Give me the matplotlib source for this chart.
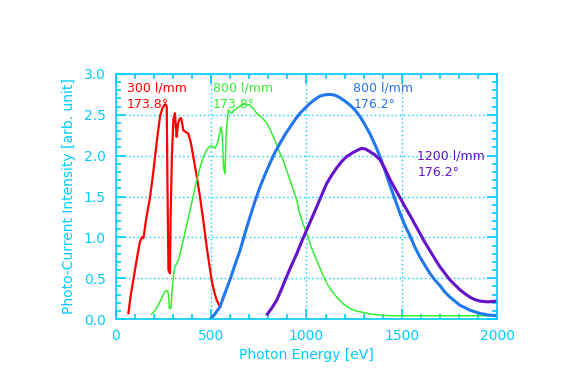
import matplotlib
matplotlib.use("Agg")
import matplotlib.pyplot as plt
from matplotlib.ticker import MultipleLocator

CYAN = "#00CCFF"

# 300 l/mm, 173.8 deg
red_e = [67, 80, 93, 110, 128, 138, 146, 160, 181, 195, 207, 220, 233, 245, 256, 262, 268, 272, 277, 285,
         288, 295, 303, 311, 316, 320, 328, 335, 343, 350, 355, 368, 381, 395, 407, 425, 442, 460, 477, 490,
         503, 517, 530, 547]
red_i = [0.07, 0.30, 0.48, 0.72, 0.95, 1.00, 0.99, 1.22, 1.50, 1.75, 1.99, 2.25, 2.48, 2.58, 2.62, 2.63, 2.60, 1.60, 0.60, 0.56,
         1.20, 2.00, 2.45, 2.52, 2.35, 2.23, 2.40, 2.45, 2.46, 2.38, 2.31, 2.29, 2.27, 2.15, 1.99, 1.75, 1.50, 1.20, 0.89, 0.68,
         0.48, 0.33, 0.23, 0.15]

# 800 l/mm, 173.8 deg
green_e = [189, 205, 224, 240, 259, 273, 278, 282, 290, 296, 303, 311, 329, 340, 355, 372, 390, 408, 425, 442, 460, 478,
           495, 508, 521, 530, 538, 546, 552, 556, 560, 566, 573, 580, 591, 600, 608, 620, 634, 650, 669, 686, 704,
           720, 739, 765, 792, 810, 826, 845, 861, 880, 896, 914, 931, 949, 962, 980, 1001, 1025, 1053, 1080, 1106,
           1130, 1158, 1190, 1228, 1260, 1297, 1340, 1385, 1450, 1550, 1650, 1750, 1850, 1950, 2000]
green_i = [0.06, 0.10, 0.17, 0.25, 0.34, 0.35, 0.28, 0.13, 0.13, 0.35, 0.52, 0.64, 0.72, 0.82, 0.97, 1.15, 1.33, 1.52, 1.70, 1.85, 1.99, 2.07,
           2.12, 2.11, 2.09, 2.13, 2.19, 2.28, 2.35, 2.32, 2.20, 1.85, 1.78, 2.30, 2.56, 2.53, 2.52, 2.55, 2.58, 2.60, 2.63, 2.63, 2.62,
           2.58, 2.52, 2.47, 2.40, 2.32, 2.23, 2.13, 2.03, 1.93, 1.82, 1.70, 1.58, 1.46, 1.31, 1.18, 1.05, 0.88, 0.72, 0.57, 0.44,
           0.35, 0.27, 0.19, 0.13, 0.10, 0.08, 0.06, 0.05, 0.04, 0.04, 0.04, 0.04, 0.04, 0.04, 0.06]

# 800 l/mm, 176.2 deg
blue_e = [500, 520, 547, 570, 599, 625, 652, 678, 704, 730, 757, 783, 809, 835, 861, 888, 914, 940, 966, 992, 1018,
          1045, 1071, 1097, 1123, 1150, 1175, 1200, 1228, 1254, 1280, 1306, 1332, 1358, 1385, 1411, 1437, 1463,
          1489, 1515, 1542, 1568, 1594, 1620, 1646, 1672, 1699, 1725, 1751, 1777, 1803, 1830, 1855, 1880, 1908, 1950, 1996]
blue_i = [0.01, 0.06, 0.15, 0.30, 0.48, 0.66, 0.84, 1.05, 1.25, 1.44, 1.62, 1.77, 1.91, 2.04, 2.15, 2.26, 2.35, 2.44, 2.52, 2.58, 2.64,
          2.69, 2.73, 2.745, 2.75, 2.74, 2.71, 2.67, 2.62, 2.56, 2.48, 2.38, 2.27, 2.14, 1.99, 1.82, 1.64, 1.47,
          1.30, 1.15, 1.02, 0.88, 0.76, 0.66, 0.56, 0.48, 0.41, 0.33, 0.27, 0.22, 0.17, 0.14, 0.11, 0.09, 0.07, 0.05, 0.04]

# 1200 l/mm, 176.2 deg
purple_e = [795, 820, 844, 870, 896, 922, 949, 975, 1001, 1027, 1053, 1080, 1106, 1132, 1158, 1185, 1211, 1245, 1270, 1289,
            1310, 1332, 1358, 1385, 1411, 1437, 1463, 1489, 1515, 1542, 1568, 1594, 1620, 1646, 1672, 1699, 1725,
            1751, 1777, 1803, 1830, 1855, 1880, 1908, 1950, 1996]
purple_i = [0.06, 0.14, 0.23, 0.37, 0.52, 0.66, 0.80, 0.95, 1.09, 1.23, 1.37, 1.52, 1.66, 1.76, 1.85, 1.93, 1.99, 2.04, 2.07, 2.09,
            2.08, 2.05, 2.01, 1.95, 1.84, 1.71, 1.60, 1.49, 1.38, 1.27, 1.16, 1.05, 0.94, 0.84, 0.74, 0.64, 0.56,
            0.48, 0.42, 0.36, 0.31, 0.27, 0.24, 0.22, 0.21, 0.22]

labels = [("300 l/mm\n173.8°", 60, 2.91, "#FF0000"),
          ("800 l/mm\n173.8°", 510, 2.91, "#33EE33"),
          ("800 l/mm\n176.2°", 1245, 2.91, "#2277EE"),
          ("1200 l/mm\n176.2°", 1580, 2.08, "#6611CC")]

plt.rcParams['font.family'] = ['DejaVu Sans']
fig = plt.figure(figsize=(5.75, 3.68), dpi=100)
ax = fig.add_axes([0.201, 0.133, 0.664, 0.666])

ax.plot(red_e, red_i, color="#FF0000", lw=1.6)
ax.plot(green_e, green_i, color="#33EE33", lw=1.1)
ax.plot(blue_e, blue_i, color="#2277EE", lw=2.2)
ax.plot(purple_e, purple_i, color="#6611CC", lw=2.2)

for txt, x, y, c in labels:
    ax.text(x, y, txt, color=c, fontsize=9, va="top", ha="left", linespacing=1.35)

ax.set_xlim(0, 2000)
ax.set_ylim(0, 3.0)
ax.xaxis.set_major_locator(MultipleLocator(500))
ax.xaxis.set_minor_locator(MultipleLocator(100))
ax.yaxis.set_major_locator(MultipleLocator(0.5))
ax.yaxis.set_minor_locator(MultipleLocator(0.1))
ax.yaxis.set_major_formatter(matplotlib.ticker.FormatStrFormatter("%.1f"))
ax.grid(True, which="major", color=CYAN, ls=(0, (1, 2)), lw=1)
for s in ax.spines.values():
    s.set_color(CYAN)
    s.set_linewidth(1.2)
ax.tick_params(which="both", direction="in", top=True, right=True, colors=CYAN, labelsize=10, pad=7)
ax.tick_params(which="major", length=7, width=1.2)
ax.tick_params(which="minor", length=3.5, width=1.2)
ax.set_xlabel("Photon Energy [eV]", color=CYAN, fontsize=10, labelpad=4)
ax.set_ylabel("Photo-Current Intensity [arb. unit]", color=CYAN, fontsize=10, labelpad=6)

fig.savefig("out.png", dpi=100)
